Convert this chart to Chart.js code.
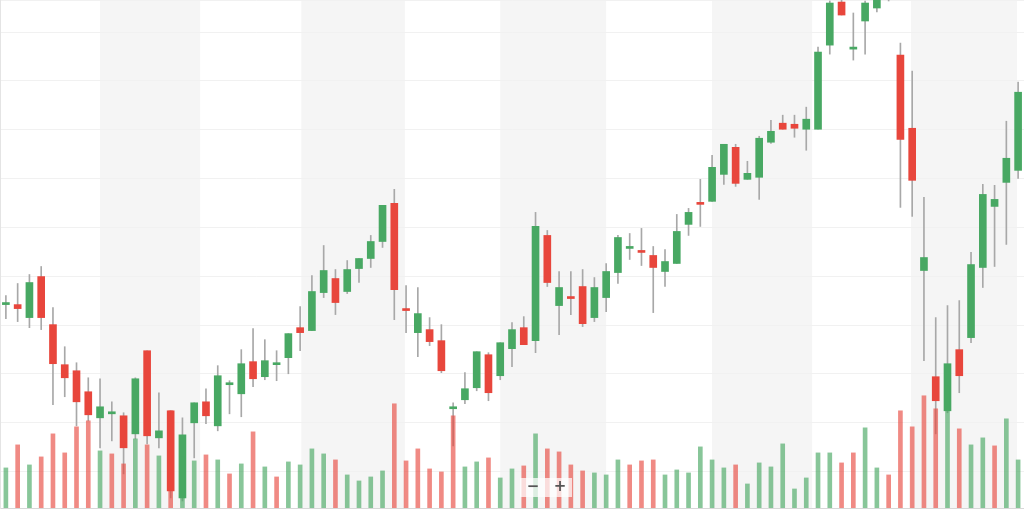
<!DOCTYPE html>
<html>
<head>
<meta charset="utf-8">
<script src="https://cdn.jsdelivr.net/npm/chart.js@4.4.1/dist/chart.umd.min.js"></script>
<style>
  html, body { margin: 0; padding: 0; background: #fff; }
  #wrap { width: 1024px; height: 512px; position: relative; }
</style>
</head>
<body>
<div id="wrap"><canvas id="grafico"></canvas></div>
<script>
// OHLC (price units), one entry per session
const opens = [152.10, 152.10, 150.77, 154.97, 150.05, 145.95, 145.33, 143.18, 140.51, 140.92,
  140.72, 138.87, 147.38, 138.46, 141.23, 132.31, 140.00, 142.15, 139.69, 143.90,
  142.97, 146.26, 144.72, 145.95, 146.67, 149.74, 149.44, 153.33, 154.77, 153.44,
  155.79, 156.82, 158.56, 162.46, 151.69, 149.23, 149.54, 148.41, 141.44, 142.36,
  143.59, 146.97, 144.82, 147.59, 149.74, 148.41, 159.18, 152.00, 152.92, 153.95,
  150.77, 152.82, 155.38, 157.85, 157.64, 157.13, 155.49, 156.31, 160.31, 162.56,
  162.67, 165.43, 168.20, 164.92, 165.13, 168.72, 170.67, 170.56, 170.05, 170.05,
  178.66, 183.07, 178.25, 181.13, 182.46, 185.84, 177.64, 170.15, 155.59, 144.72,
  141.23, 147.49, 148.72, 155.90, 162.15, 164.61, 165.84];
const highs = [153.02, 154.26, 155.18, 156.00, 151.79, 147.79, 146.15, 144.61, 144.51, 142.15,
  141.03, 144.61, 147.38, 143.08, 141.23, 140.51, 142.05, 143.49, 145.85, 144.31,
  147.49, 149.64, 148.51, 147.38, 149.13, 151.90, 155.08, 158.15, 155.69, 156.61,
  156.82, 159.18, 162.26, 163.90, 154.05, 153.85, 150.77, 150.05, 142.05, 145.13,
  147.28, 147.18, 148.20, 150.26, 150.87, 161.54, 159.69, 155.49, 155.49, 155.69,
  154.87, 156.31, 159.18, 159.38, 159.90, 158.05, 157.74, 161.33, 161.95, 164.92,
  167.38, 168.51, 168.51, 166.77, 169.33, 170.97, 171.49, 171.49, 172.31, 178.46,
  183.18, 183.90, 181.95, 183.18, 185.33, 186.36, 178.87, 176.00, 163.08, 150.77,
  152.00, 152.51, 157.44, 164.41, 164.31, 170.87, 174.87];
const lows = [150.67, 150.36, 149.74, 149.54, 141.85, 142.67, 139.69, 140.20, 137.44, 138.15,
  134.77, 138.36, 137.85, 137.44, 132.31, 132.00, 136.41, 139.90, 139.18, 140.92,
  140.62, 143.69, 144.41, 144.31, 145.02, 147.38, 149.44, 152.82, 151.08, 153.23,
  154.36, 155.90, 157.95, 150.56, 149.23, 146.77, 147.90, 145.13, 137.64, 141.95,
  143.28, 142.26, 144.41, 145.74, 148.00, 147.18, 153.95, 149.02, 151.08, 149.85,
  150.36, 151.38, 154.26, 156.72, 156.10, 151.28, 153.95, 156.31, 159.18, 160.10,
  162.67, 164.41, 164.20, 164.92, 162.87, 168.61, 170.05, 169.23, 167.90, 170.05,
  177.74, 181.74, 177.13, 177.74, 182.05, 183.18, 162.05, 161.13, 146.36, 138.87,
  141.03, 143.08, 148.20, 153.85, 156.00, 158.26, 165.02];
const closes = [152.31, 151.69, 154.36, 150.77, 146.05, 144.61, 142.15, 140.82, 141.64, 141.13,
  137.44, 144.51, 138.67, 139.18, 133.03, 138.77, 142.05, 140.72, 144.82, 144.10,
  146.05, 144.51, 146.36, 146.15, 149.13, 149.23, 153.44, 155.59, 152.31, 155.69,
  156.82, 158.56, 162.26, 153.64, 151.49, 151.18, 148.31, 145.33, 141.64, 143.49,
  147.28, 143.08, 148.20, 149.54, 148.00, 160.10, 154.36, 153.85, 152.72, 150.15,
  153.85, 155.49, 158.97, 158.05, 157.44, 155.90, 156.51, 159.59, 161.54, 162.36,
  166.15, 168.51, 164.51, 165.54, 169.13, 169.84, 170.05, 170.15, 171.08, 177.95,
  182.97, 181.74, 178.46, 182.97, 184.82, 183.79, 169.02, 164.82, 156.92, 142.26,
  146.05, 144.82, 156.20, 163.38, 162.87, 167.08, 173.84];
// volume, millions
const volumes = [4.0, 6.3, 4.3, 5.1, 7.4, 5.5, 8.1, 8.7, 5.7, 5.4,
  4.4, 6.9, 6.3, 5.2, 9.7, 5.1, 4.7, 5.3, 4.8, 3.4,
  4.4, 7.6, 4.1, 3.1, 4.6, 4.3, 5.9, 5.4, 4.8, 3.3,
  2.7, 3.1, 3.7, 10.4, 4.7, 5.9, 3.9, 3.6, 9.2, 4.1,
  4.6, 5.0, 3.0, 3.9, 4.2, 7.4, 5.9, 5.6, 4.3, 3.7,
  3.5, 3.3, 4.8, 4.3, 4.7, 4.8, 3.3, 3.8, 3.5, 6.1,
  4.8, 4.0, 4.3, 2.4, 4.5, 4.1, 6.4, 1.9, 3.0, 5.5,
  5.5, 4.5, 5.5, 8.0, 4.0, 3.3, 9.7, 8.1, 11.2, 9.9,
  12.2, 7.9, 6.3, 7.0, 6.2, 8.9, 4.8];
// alternating shaded periods, as positions on the category axis
const bandEdges = [8, 16.5, 25.1, 33.9, 42, 51, 60, 68.5, 76.9, 85.9];

const categories = opens.map((_, i) => String(i + 1));

const VERDE = '#48a863';
const VERMELHO = '#e8463c';
const VERDE_VOL = 'rgba(72,168,99,0.65)';
const VERMELHO_VOL = 'rgba(232,70,60,0.63)';

const corpoCores = opens.map((o, i) => closes[i] >= o ? VERDE : VERMELHO);
const volCores = closes.map((c, i) => {
  const ref = i === 0 ? opens[0] : closes[i - 1];
  return c >= ref ? VERDE_VOL : VERMELHO_VOL;
});

// faixas cinzentas por periodo + botoes de zoom
const faixas = {
  id: 'faixas',
  beforeDraw(chart) {
    const { ctx, chartArea, scales } = chart;
    ctx.save();
    ctx.fillStyle = '#ffffff';
    ctx.fillRect(0, 0, chart.width, chart.height);
    ctx.fillStyle = '#f5f5f5';
    for (let i = 0; i + 1 < bandEdges.length; i += 2) {
      const x0 = scales.x.getPixelForValue(bandEdges[i]);
      const x1 = scales.x.getPixelForValue(bandEdges[i + 1]);
      ctx.fillRect(x0, chartArea.top, x1 - x0, chartArea.bottom - chartArea.top);
    }
    ctx.restore();
  },
  afterDraw(chart) {
    const { ctx } = chart;
    const cx = chart.width / 2 + 34;
    ctx.save();
    ctx.fillStyle = 'rgba(255,255,255,0.72)';
    ctx.fillRect(cx - 26, 478, 52, 19);
    ctx.fillStyle = '#555';
    ctx.font = 'bold 15px "DejaVu Sans"';
    ctx.textAlign = 'center';
    ctx.textBaseline = 'middle';
    ctx.fillText('\u2212', cx - 13, 487);
    ctx.fillText('+', cx + 14, 487);
    ctx.restore();
  }
};

new Chart(document.getElementById('grafico'), {
  type: 'bar',
  data: {
    labels: categories,
    datasets: [
      {
        label: 'Volume',
        data: volumes,
        yAxisID: 'yVol',
        backgroundColor: volCores,
        barThickness: 4,
        grouped: false,
        clip: 0
      },
      {
        label: 'Corpo',
        data: opens.map((o, i) => [o, closes[i]]),
        yAxisID: 'y',
        backgroundColor: corpoCores,
        barThickness: 7,
        minBarLength: 2,
        grouped: false,
        clip: 0
      },
      {
        label: 'Pavio',
        data: lows.map((l, i) => [l, highs[i]]),
        yAxisID: 'y',
        backgroundColor: '#a8a8a8',
        barThickness: 1,
        grouped: false,
        clip: 0
      }
    ]
  },
  options: {
    responsive: true,
    maintainAspectRatio: false,
    animation: false,
    layout: { padding: { top: 0, right: 0, bottom: 4, left: 0 } },
    plugins: {
      legend: { display: false },
      tooltip: { enabled: false },
      title: { display: false }
    },
    scales: {
      x: {
        offset: true,
        grid: { display: false, drawTicks: false },
        ticks: { display: false },
        border: { display: true, color: '#d8d8d8' }
      },
      y: {
        position: 'left',
        min: 131.28,
        max: 183.28,
        ticks: { display: false, stepSize: 5 },
        grid: { color: '#f1f1f1', drawTicks: false },
        border: { display: true, color: '#e4e4e4' }
      },
      yVol: {
        display: false,
        min: 0,
        max: 50.7
      }
    }
  },
  plugins: [faixas]
});
</script>
</body>
</html>
